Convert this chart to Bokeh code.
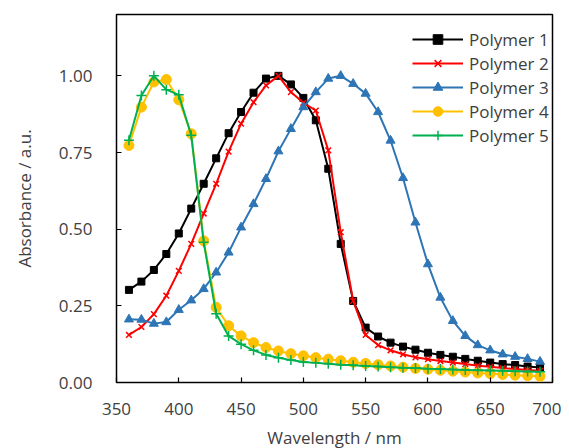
from bokeh.plotting import figure
from bokeh.models import Range1d, FixedTicker, Legend, LegendItem, NumeralTickFormatter
from bokeh.embed import file_html
from bokeh.resources import INLINE

wavelength = list(range(360, 700, 10))

polymer1 = [0.302, 0.329, 0.367, 0.419, 0.486, 0.567, 0.648, 0.731, 0.813, 0.882,
            0.945, 0.991, 1.000, 0.972, 0.928, 0.855, 0.697, 0.452, 0.266, 0.179,
            0.150, 0.130, 0.117, 0.107, 0.097, 0.090, 0.084, 0.077, 0.071, 0.065,
            0.060, 0.057, 0.052, 0.049]
polymer2 = [0.155, 0.181, 0.223, 0.283, 0.364, 0.452, 0.551, 0.648, 0.753, 0.844,
            0.914, 0.969, 1.000, 0.947, 0.912, 0.887, 0.757, 0.490, 0.266, 0.155,
            0.122, 0.105, 0.092, 0.082, 0.076, 0.070, 0.065, 0.060, 0.055, 0.051,
            0.047, 0.044, 0.041, 0.038]
polymer3 = [0.206, 0.205, 0.192, 0.197, 0.237, 0.268, 0.305, 0.359, 0.424, 0.506,
            0.582, 0.664, 0.754, 0.827, 0.898, 0.947, 0.991, 1.000, 0.974, 0.942,
            0.882, 0.789, 0.667, 0.522, 0.386, 0.277, 0.201, 0.152, 0.122, 0.105,
            0.092, 0.084, 0.077, 0.068]
polymer4 = [0.773, 0.898, 0.980, 0.988, 0.922, 0.811, 0.462, 0.245, 0.185, 0.152,
            0.130, 0.114, 0.103, 0.094, 0.087, 0.081, 0.076, 0.071, 0.066, 0.062,
            0.058, 0.054, 0.050, 0.046, 0.043, 0.040, 0.037, 0.034, 0.031, 0.029,
            0.026, 0.024, 0.022, 0.020]
polymer5 = [0.790, 0.936, 1.000, 0.955, 0.938, 0.806, 0.457, 0.224, 0.152, 0.125,
            0.105, 0.090, 0.081, 0.073, 0.067, 0.064, 0.061, 0.058, 0.056, 0.054,
            0.052, 0.050, 0.048, 0.047, 0.045, 0.044, 0.042, 0.041, 0.040, 0.039,
            0.038, 0.037, 0.036, 0.035]

names = ["Polymer 1", "Polymer 2", "Polymer 3", "Polymer 4", "Polymer 5"]
x_ticks = [350, 400, 450, 500, 550, 600, 650, 700]
y_ticks = [0.0, 0.25, 0.5, 0.75, 1.0]

FONT = "Open Sans"
TXT = "#404040"
FS = "17px"

p = figure(frame_width=436, frame_height=368, output_backend="svg", toolbar_location=None,
           x_range=Range1d(350, 700), y_range=Range1d(0, 1.2),
           min_border_left=116, min_border_right=9, min_border_top=14, min_border_bottom=50)
p.background_fill_color = "white"
p.border_fill_color = "white"
p.outline_line_color = "black"
p.outline_line_width = 1.5
p.grid.visible = False

for ax in (p.xaxis[0], p.yaxis[0]):
    ax.axis_line_color = None
    ax.major_tick_in = 5
    ax.major_tick_out = 0
    ax.major_tick_line_color = "black"
    ax.major_tick_line_width = 1.2
    ax.minor_tick_line_color = None
    ax.major_label_text_font = FONT
    ax.major_label_text_font_size = FS
    ax.major_label_text_color = TXT
    ax.axis_label_text_font = FONT
    ax.axis_label_text_font_size = FS
    ax.axis_label_text_font_style = "normal"
    ax.axis_label_text_color = TXT

p.xaxis.ticker = FixedTicker(ticks=x_ticks)
p.yaxis.ticker = FixedTicker(ticks=y_ticks)
p.yaxis.formatter = NumeralTickFormatter(format="0.00")
p.xaxis.axis_label = "Wavelength / nm"
p.yaxis.axis_label = "Absorbance / a.u."
p.xaxis.major_label_standoff = 20
p.xaxis.axis_label_standoff = 8
p.yaxis.major_label_standoff = 24
p.yaxis.axis_label_standoff = 20

series = [
    (polymer1, "#000000", "square", 7, 0),
    (polymer2, "#FF0000", "x", 8, 1.5),
    (polymer3, "#2E75B6", "triangle", 9, 0),
    (polymer4, "#FFC000", "circle", 10, 0),
    (polymer5, "#00B050", "cross", 10, 1.5),
]

items = []
for (vals, color, marker, size, lw), name in zip(series, names):
    r1 = p.line(wavelength, vals, line_color=color, line_width=2)
    if lw > 0:
        r2 = p.scatter(wavelength, vals, marker=marker, size=size, line_color=color,
                       line_width=lw, fill_color=color)
    else:
        r2 = p.scatter(wavelength, vals, marker=marker, size=size, line_color=color,
                       fill_color=color)
    items.append(LegendItem(label=name, renderers=[r1, r2]))

legend = Legend(items=items, location=(296, 235), border_line_color=None,
                background_fill_alpha=0, padding=0, spacing=0, margin=0,
                glyph_width=51, glyph_height=24, label_height=24, label_standoff=6,
                label_text_font=FONT, label_text_font_size=FS, label_text_color=TXT)
p.add_layout(legend)

open("out.html", "w").write(file_html(p, INLINE))
